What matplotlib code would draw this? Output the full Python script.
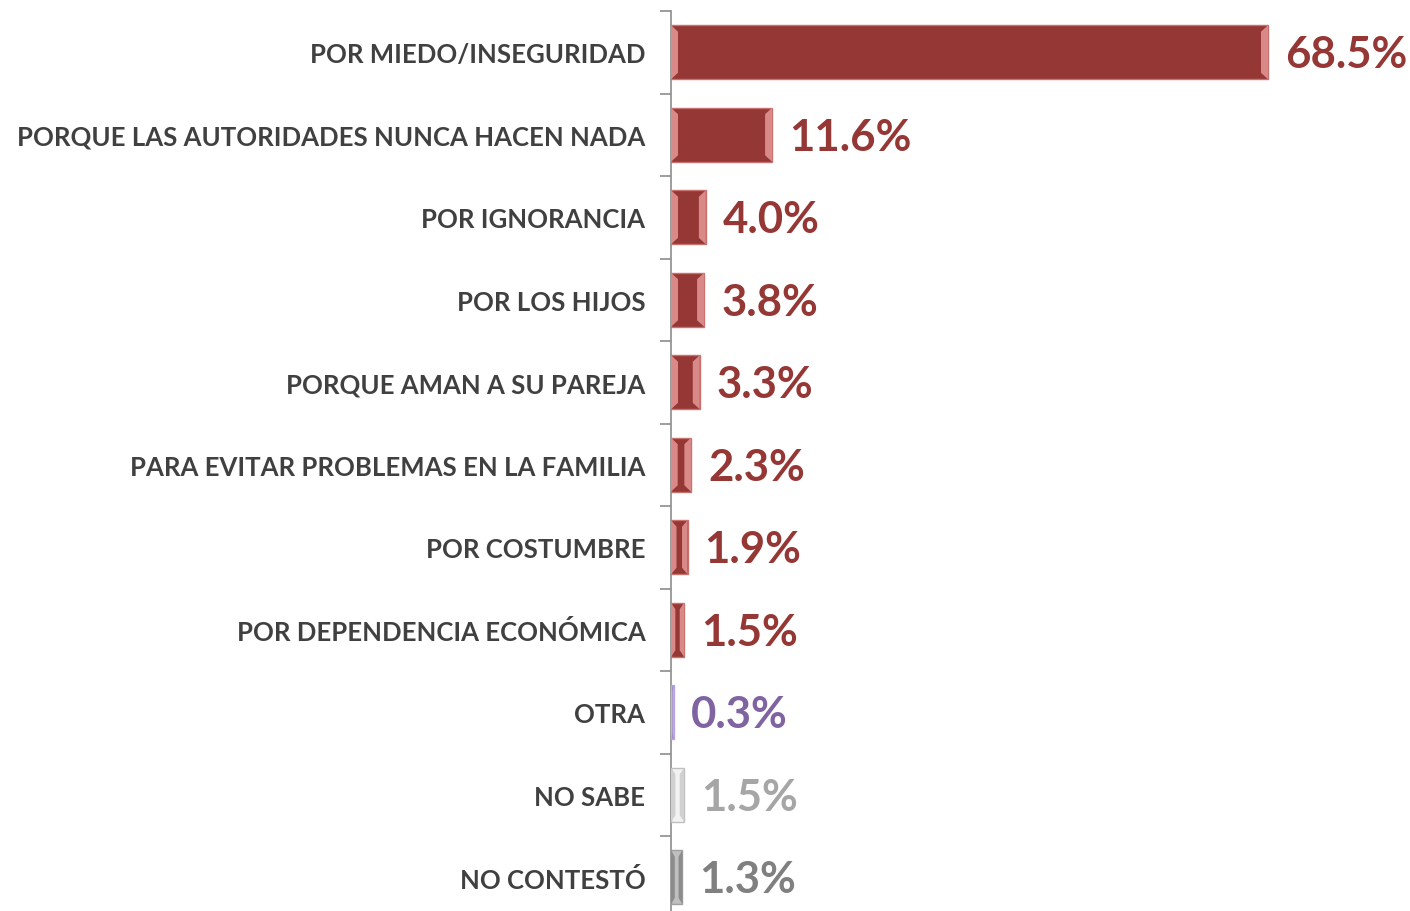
import matplotlib
matplotlib.use("Agg")
import matplotlib.pyplot as plt
from matplotlib.patches import Polygon

categories = [
    "POR MIEDO/INSEGURIDAD",
    "PORQUE LAS AUTORIDADES NUNCA HACEN NADA",
    "POR IGNORANCIA",
    "POR LOS HIJOS",
    "PORQUE AMAN A SU PAREJA",
    "PARA EVITAR PROBLEMAS EN LA FAMILIA",
    "POR COSTUMBRE",
    "POR DEPENDENCIA ECONÓMICA",
    "OTRA",
    "NO SABE",
    "NO CONTESTÓ",
]
values = [68.5, 11.6, 4.0, 3.8, 3.3, 2.3, 1.9, 1.5, 0.3, 1.5, 1.3]
value_labels = ["68.5%", "11.6%", "4.0%", "3.8%", "3.3%", "2.3%", "1.9%", "1.5%", "0.3%", "1.5%", "1.3%"]

RED = "#953735"
RED_LIGHT = "#D98A88"
bar_colors = [RED] * 8 + ["#A08CC8", "#F2F2F2", "#BFBFBF"]
bevel_colors = [RED_LIGHT] * 8 + ["#C9B8E6", "#D0D0D0", "#8C8C8C"]
edge_colors = ["#C87270"] * 8 + ["#B9A6DE", "#BFBFBF", "#A0A0A0"]
text_colors = [RED] * 8 + ["#8064A2", "#A6A6A6", "#808080"]

W, H = 1410, 912
fig = plt.figure(figsize=(W / 100, H / 100), dpi=100)

ax_left = 671 / W
ax_right = 1405 / W
ax_top = 1 - 12 / H
n = len(categories)
step = 82.5
ax_bottom = 1 - (12 + n * step) / H
ax = fig.add_axes([ax_left, ax_bottom, ax_right - ax_left, ax_top - ax_bottom])
ax.patch.set_alpha(0)

px_per_unit = 597 / 68.5
xmax = (1405 - 671) / px_per_unit
ax.set_xlim(0, xmax)
ax.set_ylim(n - 0.5, -0.5)

bar_h = 0.655
ypos = list(range(n))
ax.barh(ypos, values, height=bar_h, color=bar_colors, edgecolor=edge_colors,
        linewidth=1.0, zorder=3)

# bevel ends
bev = 7 / px_per_unit
inset_y = bar_h * 0.12
for y, v, bc in zip(ypos, values, bevel_colors):
    b = min(bev, v / 3)
    top, bot = y - bar_h / 2, y + bar_h / 2
    left = Polygon([(0, top), (b, top + inset_y), (b, bot - inset_y), (0, bot)],
                   closed=True, facecolor=bc, edgecolor="none", zorder=4)
    right = Polygon([(v, top), (v - b, top + inset_y), (v - b, bot - inset_y), (v, bot)],
                    closed=True, facecolor=bc, edgecolor="none", zorder=4)
    ax.add_patch(left)
    ax.add_patch(right)

for y, v, lab, c in zip(ypos, values, value_labels, text_colors):
    ax.annotate(lab, xy=(v, y), xytext=(17, -2), textcoords="offset pixels",
                ha="left", va="center", fontsize=31.5, fontweight="bold",
                color=c, family="Lato", zorder=5)

ax.set_yticks(ypos)
ax.set_yticklabels(categories, fontsize=18.5, fontweight="bold", color="#404040", family="Lato")
ax.tick_params(axis="y", which="major", length=0, pad=18.5)
ax.set_yticks([i - 0.5 for i in range(n + 1)], minor=True)
ax.tick_params(axis="y", which="minor", length=8, width=1.2, color="#8C8C8C", direction="out")
ax.set_xticks([])
for s in ["top", "right", "bottom"]:
    ax.spines[s].set_visible(False)
ax.spines["left"].set_color("#8C8C8C")
ax.spines["left"].set_linewidth(1.2)

fig.savefig("out.png", dpi=100)
